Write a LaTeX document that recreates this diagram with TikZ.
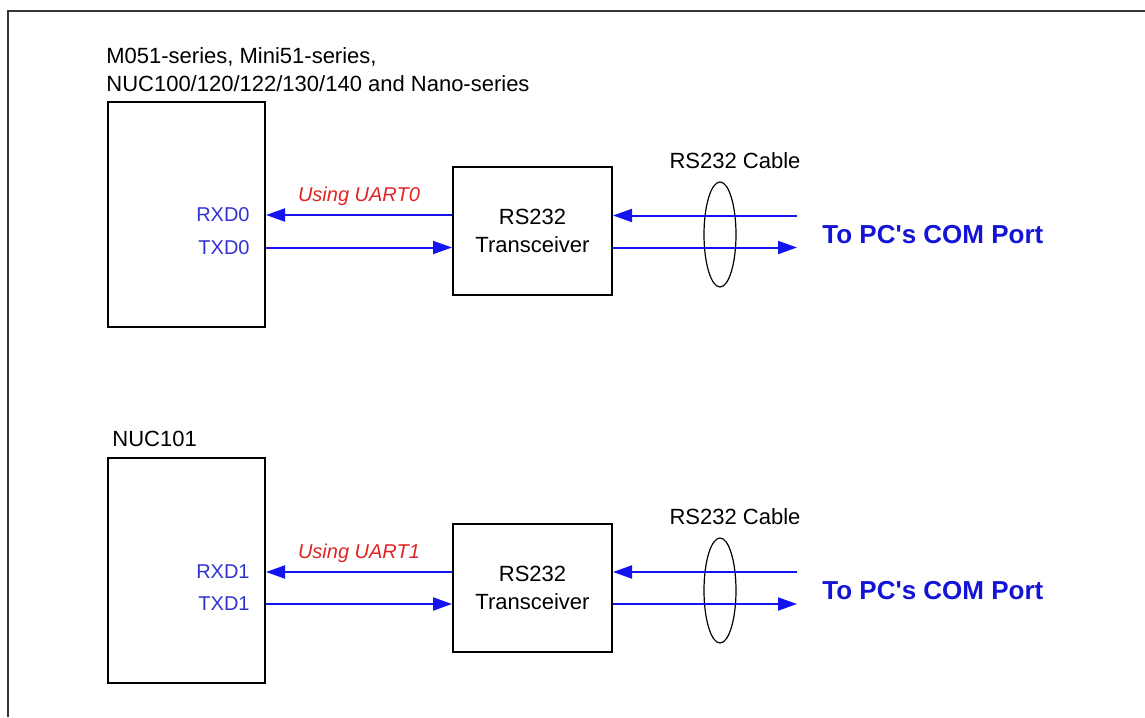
\documentclass[tikz,border=0pt]{standalone}
\usepackage{fontspec}
\setmainfont{Liberation Sans}
\usetikzlibrary{positioning,shapes.geometric,arrows.meta}
\definecolor{lineblue}{RGB}{20,20,240}
\definecolor{pinblue}{RGB}{50,50,210}
\definecolor{portblue}{RGB}{20,20,215}
\definecolor{notered}{RGB}{225,35,35}
\definecolor{framegray}{RGB}{55,55,55}

\begin{document}
\begin{tikzpicture}[x=0.5pt, y=-0.5pt, >={Triangle[length=9.5pt,width=6.5pt]}]
    \tikzset{
        chip/.style={rectangle, draw, line width=1pt, minimum width=78.5pt, minimum height=112.5pt},
        xcvr/.style={rectangle, draw, line width=1pt, minimum width=79.5pt, minimum height=64pt, align=center, font=\fontsize{11}{14}\selectfont},
        cable/.style={ellipse, draw, line width=0.6pt, minimum width=16pt, minimum height=52.5pt, inner sep=0pt},
        sig/.style={draw=lineblue, line width=1pt},
        pinlabel/.style={text=pinblue, font=\fontsize{10}{12}\selectfont, inner sep=0pt, anchor=east},
        uartnote/.style={text=notered, font=\fontsize{10}{12}\selectfont\itshape, inner sep=0pt},
        caption/.style={font=\fontsize{11}{14}\selectfont, inner sep=0pt, align=left},
        portlabel/.style={text=portblue, font=\fontsize{13}{15}\selectfont\bfseries, inner sep=0pt, anchor=west}
    }
    \useasboundingbox (0,0) rectangle (1145,717);
    \draw[framegray, line width=1pt] (8,717) -- (8,11) -- (1145,11);

        % UART0 block
        \node[caption, anchor=north west] (title0) at (106,47) {M051-series, Mini51-series,\\NUC100/120/122/130/140 and Nano-series};
        \node[chip] (mcu0) at (186.5,214.5) {};
        \node[xcvr] (trx0) at (532.5,231) {RS232\\Transceiver};
        \node[pinlabel] (rxd0) at (250,215) {RXD0};
        \node[pinlabel] (txd0) at (250,247.5) {TXD0};
        \node[cable] (cable0) at (720,234.5) {};
        \node[caption] (cabletxt0) [above=6pt of cable0, xshift=7.5pt] {RS232 Cable};
        \node[portlabel] (port0) at (822,235) {To PC\textquotesingle s COM Port};
        \coordinate (cin0) at (797,215.5);
        \coordinate (cout0) at (797,247.5);

        \draw[sig, ->] (trx0.west |- rxd0) -- node[uartnote, midway, above=4pt] {Using UART0} (mcu0.east |- rxd0);
        \draw[sig, ->] (mcu0.east |- txd0) -- (trx0.west |- txd0);
        \draw[sig, ->] (cin0) -- (trx0.east |- cin0);
        \draw[sig, ->] (trx0.east |- cout0) -- (cout0);

        % UART1 block
        \node[caption, anchor=west] (title1) at (112,439) {NUC101};
        \node[chip] (mcu1) at (186.5,570.5) {};
        \node[xcvr] (trx1) at (532.5,587.5) {RS232\\Transceiver};
        \node[pinlabel] (rxd1) at (250,572) {RXD1};
        \node[pinlabel] (txd1) at (250,604) {TXD1};
        \node[cable] (cable1) at (720,590.5) {};
        \node[caption] (cabletxt1) [above=6pt of cable1, xshift=7.5pt] {RS232 Cable};
        \node[portlabel] (port1) at (822,591) {To PC\textquotesingle s COM Port};
        \coordinate (cin1) at (797,572);
        \coordinate (cout1) at (797,604);

        \draw[sig, ->] (trx1.west |- rxd1) -- node[uartnote, midway, above=4pt] {Using UART1} (mcu1.east |- rxd1);
        \draw[sig, ->] (mcu1.east |- txd1) -- (trx1.west |- txd1);
        \draw[sig, ->] (cin1) -- (trx1.east |- cin1);
        \draw[sig, ->] (trx1.east |- cout1) -- (cout1);

    \end{tikzpicture}
\end{document}
